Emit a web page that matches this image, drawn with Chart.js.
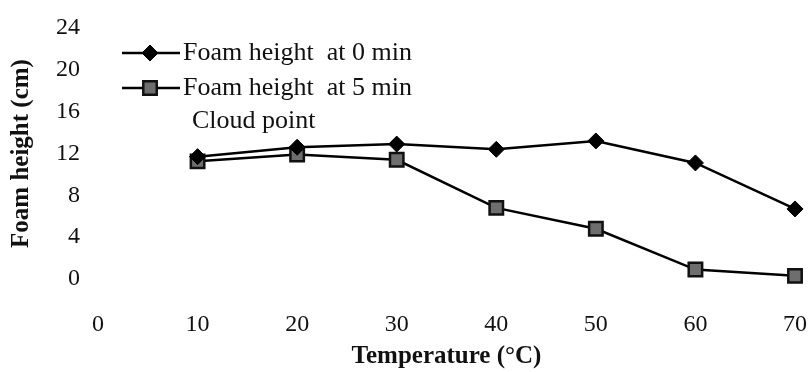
<!DOCTYPE html>
<html>
<head>
<meta charset="utf-8">
<script src="https://cdn.jsdelivr.net/npm/chart.js@4/dist/chart.umd.min.js"></script>
<style>
  html, body { margin: 0; padding: 0; background: #ffffff; }
  #wrap { width: 809px; height: 372px; }
</style>
</head>
<body>
<div id="wrap"><canvas id="c" width="809" height="372"></canvas></div>
<script>
// ---- data ----
const temperatures = [10, 20, 30, 40, 50, 60, 70];
const foamAt0 = [11.7, 12.6, 12.9, 12.4, 13.2, 11.1, 6.7];
const foamAt5 = [11.25, 11.9, 11.4, 6.8, 4.8, 0.9, 0.3];
const seriesLabels = ["Foam height  at 0 min", "Foam height  at 5 min"];
const extraLegendText = "Cloud point";
const xTickValues = [0, 10, 20, 30, 40, 50, 60, 70];
const yTickValues = [0, 4, 8, 12, 16, 20, 24];
const xTitle = "Temperature (°C)";
const yTitle = "Foam height (cm)";

const SERIF = "'Liberation Serif', 'Times New Roman', serif";

const legendPlugin = {
  id: 'customLegend',
  afterDraw(chart) {
    const ctx = chart.ctx;
    const rows = [
      { ds: chart.data.datasets[0], y: 53 },
      { ds: chart.data.datasets[1], y: 88 }
    ];
    ctx.save();
    rows.forEach(r => {
      const ds = r.ds;
      ctx.strokeStyle = ds.borderColor;
      ctx.lineWidth = ds.borderWidth;
      ctx.beginPath();
      ctx.moveTo(122, r.y);
      ctx.lineTo(180, r.y);
      ctx.stroke();
      ctx.fillStyle = ds.pointBackgroundColor;
      ctx.strokeStyle = ds.pointBorderColor;
      ctx.lineWidth = ds.pointBorderWidth;
      Chart.helpers.drawPoint(ctx, {
        pointStyle: ds.pointStyle, radius: ds.pointRadius,
        rotation: 0, borderWidth: ds.pointBorderWidth
      }, 150, r.y);
      ctx.fillStyle = '#111';
      ctx.font = '26px ' + SERIF;
      ctx.textAlign = 'left';
      ctx.textBaseline = 'middle';
      ctx.fillText(ds.label, 183, r.y);
    });
    ctx.fillStyle = '#111';
    ctx.font = '26px ' + SERIF;
    ctx.textBaseline = 'middle';
    ctx.fillText(extraLegendText, 192, 121);
    ctx.restore();
  }
};

new Chart(document.getElementById('c'), {
  type: 'line',
  data: {
    datasets: [
      {
        label: seriesLabels[0],
        data: temperatures.map((t, i) => ({ x: t, y: foamAt0[i] })),
        borderColor: '#000',
        borderWidth: 2.5,
        pointStyle: 'rectRot',
        pointRadius: 8,
        pointBackgroundColor: '#000',
        pointBorderColor: '#000',
        pointBorderWidth: 1,
        tension: 0,
        clip: false
      },
      {
        label: seriesLabels[1],
        data: temperatures.map((t, i) => ({ x: t, y: foamAt5[i] })),
        borderColor: '#000',
        borderWidth: 2.5,
        pointStyle: 'rect',
        pointRadius: 9.5,
        pointBackgroundColor: '#6e6e6e',
        pointBorderColor: '#111',
        pointBorderWidth: 2.5,
        tension: 0,
        clip: false
      }
    ]
  },
  options: {
    responsive: false,
    animation: false,
    layout: { padding: { top: 28, right: 0, bottom: 0, left: 0 } },
    plugins: {
      legend: { display: false },
      tooltip: { enabled: false }
    },
    scales: {
      x: {
        type: 'linear',
        min: xTickValues[0],
        max: xTickValues[xTickValues.length - 1],
        afterBuildTicks: s => { s.ticks = xTickValues.map(v => ({ value: v })); },
        grid: { display: false },
        border: { display: false },
        ticks: {
          padding: 23,
          color: '#111',
          font: { family: SERIF, size: 24 },
          maxRotation: 0
        },
        title: {
          display: true,
          text: xTitle,
          color: '#111',
          font: { family: SERIF, size: 25, weight: 'bold' },
          padding: { top: 0, bottom: 0 }
        },
        afterFit: s => { s.height = 93; s.paddingRight = 14; s.paddingLeft = 0; }
      },
      y: {
        type: 'linear',
        min: yTickValues[0],
        max: yTickValues[yTickValues.length - 1],
        afterBuildTicks: s => { s.ticks = yTickValues.map(v => ({ value: v })); },
        grid: { display: false },
        border: { display: false },
        ticks: {
          padding: 10,
          color: '#111',
          font: { family: SERIF, size: 24 }
        },
        title: {
          display: true,
          text: yTitle,
          color: '#111',
          font: { family: SERIF, size: 25, weight: 'bold' },
          padding: { top: 7, bottom: 0 }
        },
        afterFit: s => { s.width = 98; s.paddingTop = 0; s.paddingBottom = 0; }
      }
    }
  },
  plugins: [legendPlugin]
});
</script>
</body>
</html>
